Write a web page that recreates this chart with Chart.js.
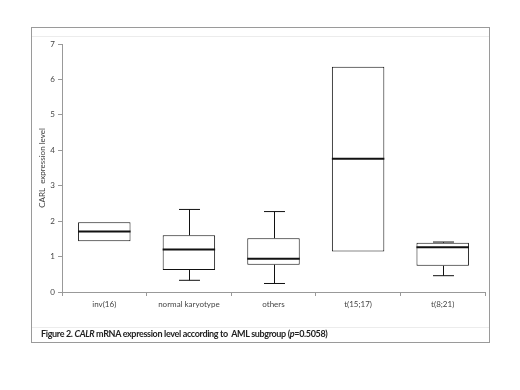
<!DOCTYPE html>
<html>
<head>
<meta charset="utf-8">
<script src="https://cdn.jsdelivr.net/npm/chart.js@4.4.1/dist/chart.umd.min.js"></script>
<style>
  body { margin: 0; background: #fff; }
  #wrap { position: relative; width: 520px; height: 390px; }
  .frame { position: absolute; left: 31px; top: 27px; width: 457px; height: 314px; border: 1.5px solid #9a9a9a; }
  .hline { position: absolute; left: 32px; width: 457px; height: 1px; background: #ececec; }
  .caption { position: absolute; left: 41px; top: 328px; font-family: Lato, sans-serif; font-weight: bold; font-size: 9px; letter-spacing: -0.35px; color: #222; white-space: pre; }
  canvas { position: absolute; left: 0; top: 0; }
</style>
</head>
<body>
<div id="wrap">
  <div class="frame"></div>
  <div class="hline" style="top:36px"></div>
  <div class="hline" style="top:327px"></div>
  <canvas id="chart" width="520" height="390"></canvas>
  <div class="caption">Figure 2. <i>CALR</i> mRNA expression level according to  AML subgroup (<i>p</i>=0.5058)</div>
</div>
<script>
const categories = ["inv(16)", "normal karyotype", "others", "t(15;17)", "t(8;21)"];
const mins    = [1.43, 0.33, 0.24, 1.14, 0.46];
const q1s     = [1.43, 0.62, 0.77, 1.14, 0.74];
const medians = [1.71, 1.20, 0.94, 3.76, 1.26];
const q3s     = [1.97, 1.60, 1.52, 6.36, 1.39];
const maxs    = [1.97, 2.33, 2.27, 6.36, 1.41];
const yTicks  = [0, 1, 2, 3, 4, 5, 6, 7];

// median line and whiskers, drawn on top of the floating bars
const boxWhisker = {
    id: "boxWhisker",
    afterDatasetsDraw(chart) {
        const ctx = chart.ctx;
        const y = chart.scales.y;
        const meta = chart.getDatasetMeta(0);
        ctx.save();
        ctx.strokeStyle = "#111";
        meta.data.forEach((bar, i) => {
            const x = Math.round(bar.x) + 0.5;
            const half = bar.width / 2;
            const cap = bar.width * 0.2;
            ctx.lineWidth = 1;
            ctx.beginPath();
            if (maxs[i] > q3s[i]) {
                ctx.moveTo(x, y.getPixelForValue(q3s[i]));
                ctx.lineTo(x, y.getPixelForValue(maxs[i]));
                ctx.moveTo(x - cap, y.getPixelForValue(maxs[i]));
                ctx.lineTo(x + cap, y.getPixelForValue(maxs[i]));
            }
            if (mins[i] < q1s[i]) {
                ctx.moveTo(x, y.getPixelForValue(q1s[i]));
                ctx.lineTo(x, y.getPixelForValue(mins[i]));
                ctx.moveTo(x - cap, y.getPixelForValue(mins[i]));
                ctx.lineTo(x + cap, y.getPixelForValue(mins[i]));
            }
            ctx.stroke();
            ctx.lineWidth = 2;
            ctx.beginPath();
            ctx.moveTo(bar.x - half, y.getPixelForValue(medians[i]));
            ctx.lineTo(bar.x + half, y.getPixelForValue(medians[i]));
            ctx.stroke();
        });
        ctx.restore();
    }
};

new Chart(document.getElementById("chart"), {
    type: "bar",
    data: {
        labels: categories,
        datasets: [{
            data: q1s.map((q, i) => [q, q3s[i]]),
            backgroundColor: "#ffffff",
            borderColor: "#111",
            borderWidth: 1,
            borderSkipped: false,
            categoryPercentage: 1,
            barPercentage: 0.62,
        }],
    },
    options: {
        responsive: false,
        animation: false,
        layout: { padding: { left: 38, right: 35, top: 44, bottom: 68 } },
        plugins: { legend: { display: false }, tooltip: { enabled: false } },
        scales: {
            x: {
                afterFit(scale) { scale.height = 30; },
                grid: { drawOnChartArea: false, tickLength: 4, color: "#999" },
                border: { color: "#999" },
                ticks: { color: "#444", font: { family: "Lato", size: 8 }, padding: 4 },
            },
            y: {
                min: 0,
                max: 7,
                afterFit(scale) { scale.width = 24; },
                afterBuildTicks(scale) { scale.ticks = yTicks.map(v => ({ value: v })); },
                grid: { drawOnChartArea: false, tickLength: 4, color: "#999" },
                border: { color: "#999" },
                ticks: { color: "#444", font: { family: "Lato", size: 8 }, padding: 3 },
                title: { display: true, text: "CARL  expression level", color: "#444", font: { family: "Lato", size: 8 }, padding: 0 },
            },
        },
    },
    plugins: [boxWhisker],
});
</script>
</body>
</html>
